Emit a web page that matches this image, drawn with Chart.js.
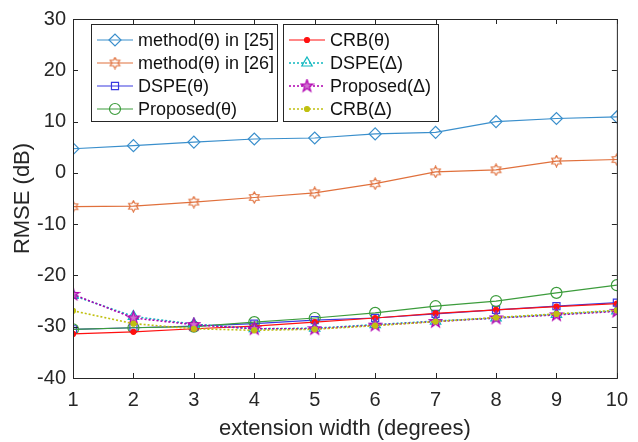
<!DOCTYPE html>
<html>
<head>
<meta charset="utf-8">
<script src="https://cdn.jsdelivr.net/npm/chart.js@4/dist/chart.umd.min.js"></script>
<style>
  html, body { margin: 0; padding: 0; background: #fff; }
  #wrap { width: 638px; height: 442px; }
</style>
</head>
<body>
<div id="wrap"><canvas id="chart" width="638" height="442"></canvas></div>
<script>
// data
const xValues = [1, 2, 3, 4, 5, 6, 7, 8, 9, 10];
const method25 = [4.7, 5.3, 6.0, 6.6, 6.8, 7.6, 7.9, 10.0, 10.6, 10.9];
const method26 = [-6.6, -6.5, -5.7, -4.8, -3.9, -2.1, 0.2, 0.6, 2.3, 2.6];
const dspeTheta = [-30.5, -30.2, -29.9, -29.4, -28.7, -28.3, -27.5, -26.7, -26.0, -25.3];
const proposedTheta = [-30.5, -30.2, -30.0, -29.1, -28.3, -27.3, -26.0, -25.0, -23.4, -21.9];
const crbTheta = [-31.4, -31.0, -30.4, -29.9, -29.1, -28.3, -27.4, -26.7, -26.1, -25.5];
const dspeDelta = [-23.9, -28.0, -29.5, -30.4, -30.3, -29.6, -28.9, -28.3, -27.6, -26.9];
const proposedDelta = [-23.7, -28.3, -29.6, -30.4, -30.4, -29.7, -29.0, -28.3, -27.7, -27.0];
const crbDelta = [-26.9, -29.4, -30.4, -30.7, -30.5, -29.8, -29.0, -28.2, -27.5, -26.8];
const yTicks = [-40, -30, -20, -10, 0, 10, 20, 30];

const FONT = '"Liberation Sans", Arial, sans-serif';

function starCanvas(points, color, fill, size) {
    const c = document.createElement('canvas');
    c.width = size; c.height = size;
    const g = c.getContext('2d');
    const cx = size / 2, cy = size / 2, ro = size / 2 - 1;
    const ri = points === 5 ? ro * 0.4 : ro * 0.58;
    g.beginPath();
    for (let i = 0; i < points * 2; i++) {
        const r = i % 2 === 0 ? ro : ri;
        const a = -Math.PI / 2 + i * Math.PI / points;
        const px = cx + r * Math.cos(a), py = cy + r * Math.sin(a);
        if (i === 0) g.moveTo(px, py); else g.lineTo(px, py);
    }
    g.closePath();
    if (fill) { g.fillStyle = fill; g.fill(); }
    g.strokeStyle = color;
    g.lineWidth = 1.2;
    g.stroke();
    return c;
}

const hexagram = starCanvas(6, '#e0703c', null, 13);
const pentagram = starCanvas(5, '#b000b0', '#d070d0', 15);

function pts(arr) {
    return arr.map((v, i) => ({ x: xValues[i], y: v }));
}

const seriesDefs = [
    { label: 'method(\u03b8) in [25]', data: method25, color: '#3a8fcc', style: 'rectRot', r: 6, dash: [], fill: false },
    { label: 'method(\u03b8) in [26]', data: method26, color: '#e0703c', style: hexagram, r: 6, dash: [], fill: false },
    { label: 'DSPE(\u03b8)', data: dspeTheta, color: '#3a3ae0', style: 'rect', r: 5, dash: [], fill: false },
    { label: 'Proposed(\u03b8)', data: proposedTheta, color: '#3c9c3c', style: 'circle', r: 5.5, dash: [], fill: false },
    { label: 'CRB(\u03b8)', data: crbTheta, color: '#ff1010', style: 'circle', r: 2.5, dash: [], fill: true },
    { label: 'DSPE(\u0394)', data: dspeDelta, color: '#10b8c0', style: 'triangle', r: 6, dash: [2, 2], fill: false },
    { label: 'Proposed(\u0394)', data: proposedDelta, color: '#b000b0', style: pentagram, r: 7, dash: [2, 2], fill: false },
    { label: 'CRB(\u0394)', data: crbDelta, color: '#c0c010', style: 'circle', r: 2.5, dash: [2, 2], fill: true }
];

const datasets = seriesDefs.map((s, i) => ({
    label: s.label,
    data: pts(s.data),
    borderColor: s.color,
    backgroundColor: s.fill ? s.color : 'rgba(0,0,0,0)',
    borderWidth: s.dash.length ? 1.6 : 1.2,
    borderDash: s.dash,
    pointStyle: s.style,
    pointRadius: s.r,
    pointBorderWidth: 1.2,
    pointBorderColor: s.color,
    pointBackgroundColor: s.fill ? s.color : 'rgba(0,0,0,0)',
    tension: 0,
    fill: false,
    order: seriesDefs.length - i
}));

// MATLAB-style box with inward ticks
const boxPlugin = {
    id: 'box',
    afterDraw(chart) {
        const { ctx, chartArea: a, scales } = chart;
        ctx.save();
        ctx.strokeStyle = '#262626';
        ctx.lineWidth = 1;
        ctx.strokeRect(a.left + 0.5, a.top + 0.5, a.right - a.left, a.bottom - a.top);
        const t = 5;
        ctx.beginPath();
        xValues.forEach(v => {
            const x = Math.round(scales.x.getPixelForValue(v)) + 0.5;
            ctx.moveTo(x, a.bottom); ctx.lineTo(x, a.bottom - t);
            ctx.moveTo(x, a.top); ctx.lineTo(x, a.top + t);
        });
        yTicks.forEach(v => {
            const y = Math.round(scales.y.getPixelForValue(v)) + 0.5;
            ctx.moveTo(a.left, y); ctx.lineTo(a.left + t, y);
            ctx.moveTo(a.right, y); ctx.lineTo(a.right - t, y);
        });
        ctx.stroke();
        ctx.restore();
    }
};

// two-box legend like the figure
const legendPlugin = {
    id: 'twoBoxLegend',
    afterDraw(chart) {
        const { ctx } = chart;
        const boxes = [
            { x: 91, y: 24, w: 186, h: 97, items: [0, 1, 2, 3] },
            { x: 283, y: 24, w: 155, h: 97, items: [4, 5, 6, 7] }
        ];
        ctx.save();
        boxes.forEach(b => {
            ctx.fillStyle = '#fff';
            ctx.fillRect(b.x, b.y, b.w, b.h);
            ctx.strokeStyle = '#262626';
            ctx.lineWidth = 1;
            ctx.setLineDash([]);
            ctx.strokeRect(b.x + 0.5, b.y + 0.5, b.w, b.h);
            b.items.forEach((idx, row) => {
                const ds = chart.data.datasets[idx];
                const y = b.y + 16 + row * 23;
                const x0 = b.x + 6, x1 = b.x + 42;
                ctx.strokeStyle = ds.borderColor;
                ctx.lineWidth = ds.borderWidth;
                ctx.setLineDash(ds.borderDash);
                ctx.beginPath();
                ctx.moveTo(x0, y); ctx.lineTo(x1, y);
                ctx.stroke();
                ctx.setLineDash([]);
                ctx.lineWidth = ds.pointBorderWidth;
                ctx.fillStyle = ds.pointBackgroundColor;
                Chart.helpers.drawPoint(ctx, {
                    pointStyle: ds.pointStyle,
                    radius: ds.pointRadius,
                    rotation: 0,
                    borderWidth: ds.pointBorderWidth
                }, (x0 + x1) / 2, y);
                ctx.fillStyle = '#111';
                ctx.font = '18px ' + FONT;
                ctx.textBaseline = 'middle';
                ctx.textAlign = 'left';
                ctx.fillText(ds.label, x1 + 5, y + 1);
            });
        });
        ctx.restore();
    }
};

new Chart(document.getElementById('chart').getContext('2d'), {
    type: 'line',
    data: { datasets },
    plugins: [boxPlugin, legendPlugin],
    options: {
        responsive: false,
        animation: false,
        layout: { padding: { left: 0, right: 11, top: 15, bottom: 0 } },
        plugins: { legend: { display: false }, tooltip: { enabled: false } },
        scales: {
            x: {
                type: 'linear',
                min: 1,
                max: 10,
                afterFit(scale) { scale.height = 64; },
                afterBuildTicks(scale) { scale.ticks = xValues.map(v => ({ value: v })); },
                grid: { display: false, drawTicks: false },
                border: { display: false },
                ticks: { color: '#262626', font: { family: FONT, size: 20 }, padding: 10, maxRotation: 0 },
                title: { display: true, text: 'extension width (degrees)', color: '#262626', font: { family: FONT, size: 22 }, padding: { top: 0, bottom: 0 } }
            },
            y: {
                min: -40,
                max: 30,
                afterFit(scale) { scale.width = 73; },
                afterBuildTicks(scale) { scale.ticks = yTicks.map(v => ({ value: v })); },
                grid: { display: false, drawTicks: false },
                border: { display: false },
                ticks: { color: '#262626', font: { family: FONT, size: 20 }, padding: 7 },
                title: { display: true, text: 'RMSE (dB)', color: '#262626', font: { family: FONT, size: 22 }, padding: { top: 10, bottom: 0 } }
            }
        }
    }
});
</script>
</body>
</html>
